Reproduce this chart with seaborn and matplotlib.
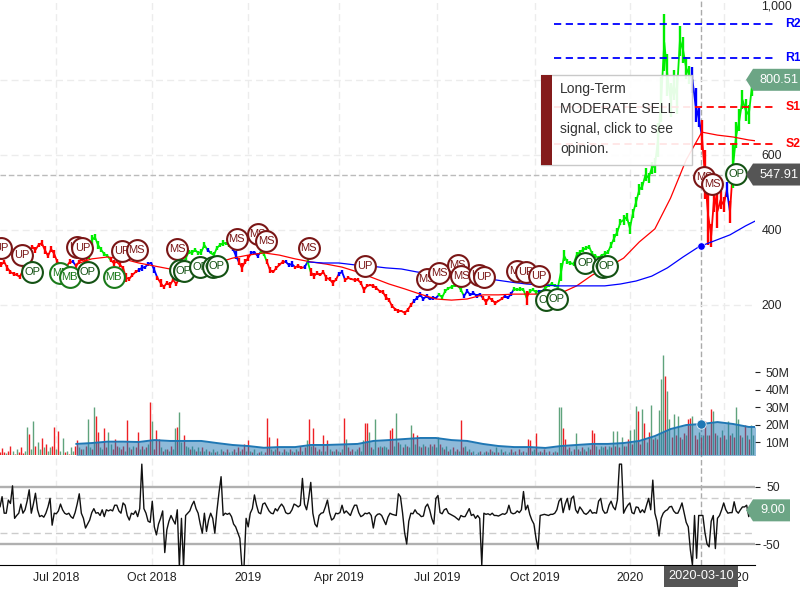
import matplotlib
matplotlib.use("Agg")
import matplotlib.pyplot as plt
from matplotlib.patches import Polygon, Rectangle
import seaborn as sns
import pandas as pd

# price midpoints, sampled every 3 days from start_date
price = [
    307, 315, 299, 288, 283, 280, 275, 293, 320, 341,
    355, 347, 360, 365, 347, 331, 349, 336, 315, 307,
    299, 304, 315, 315, 304, 315, 325, 315, 333, 373,
    381, 360, 347, 336, 331, 320, 312, 315, 307, 299,
    272, 270, 280, 288, 293, 299, 301, 309, 312, 293,
    272, 259, 248, 259, 253, 267, 256, 272, 299, 325,
    341, 339, 347, 339, 341, 360, 347, 339, 333, 352,
    360, 365, 365, 360, 352, 333, 315, 299, 315, 325,
    339, 341, 331, 341, 336, 315, 293, 288, 299, 307,
    315, 315, 307, 309, 301, 304, 299, 301, 315, 288,
    277, 285, 280, 288, 272, 269, 259, 267, 283, 288,
    267, 272, 269, 267, 267, 259, 240, 251, 253, 251,
    245, 237, 235, 221, 213, 197, 189, 184, 184, 179,
    187, 200, 211, 219, 227, 216, 224, 216, 219, 219,
    227, 221, 237, 245, 248, 253, 253, 240, 224, 237,
    227, 232, 224, 229, 219, 208, 219, 213, 205, 211,
    216, 224, 219, 229, 243, 240, 243, 240, 219, 237,
    240, 235, 237, 237, 245, 253, 256, 251, 248, 288,
    331, 315, 312, 309, 333, 341, 347, 352, 355, 336,
    331, 325, 333, 336, 341, 360, 379, 395, 421, 427,
    435, 405, 445, 475, 507, 517, 547, 539, 565, 573,
    640, 747, 900, 813, 747, 787, 760, 905, 880, 832,
    813, 800, 733, 699, 653, 547, 440, 385, 493, 450,
    480, 467, 507, 448, 573, 653, 693, 747, 720, 707,
    780,
]
# high-low height at each sample
day_range = [
    14, 10, 16, 12, 10, 8, 10, 14, 18, 14,
    12, 16, 10, 16, 22, 14, 16, 20, 14, 10,
    12, 10, 14, 8, 10, 12, 16, 10, 22, 28,
    16, 20, 14, 10, 8, 12, 14, 8, 14, 12,
    24, 10, 12, 8, 12, 16, 8, 10, 6, 14,
    12, 20, 12, 10, 14, 8, 12, 10, 12, 10,
    10, 14, 12, 10, 16, 14, 10, 8, 14, 10,
    12, 14, 8, 10, 16, 20, 18, 24, 14, 14,
    10, 8, 14, 10, 12, 14, 18, 8, 10, 8,
    12, 8, 10, 14, 8, 10, 8, 12, 14, 20,
    16, 10, 8, 12, 14, 10, 16, 8, 12, 8,
    12, 8, 6, 10, 8, 12, 14, 8, 6, 10,
    10, 8, 12, 14, 10, 12, 8, 10, 6, 12,
    10, 12, 10, 12, 14, 10, 12, 8, 10, 6,
    8, 10, 12, 8, 10, 8, 6, 12, 10, 12,
    8, 10, 12, 8, 10, 14, 8, 10, 12, 6,
    8, 10, 8, 12, 10, 8, 10, 8, 36, 10,
    8, 10, 8, 6, 10, 8, 10, 8, 6, 50,
    30, 14, 10, 12, 16, 10, 14, 10, 12, 16,
    10, 12, 8, 14, 12, 18, 20, 22, 18, 26,
    20, 30, 24, 28, 30, 22, 34, 26, 32, 40,
    90, 120, 150, 110, 90, 80, 100, 80, 70, 60,
    50, 70, 90, 50, 80, 130, 160, 60, 90, 90,
    50, 40, 40, 60, 120, 70, 60, 50, 60, 50,
    46,
]
signal = (
    "rrrrrrrrrr" "rrrrrrrrrr" "rrrbrrrrgg" "gggggrrrrr" "rrrrbbbbbb"
    "rrrrrrrggg" "ggggggbggg" "ggggbbrrrr" "bbbggrrrrr" "rbbbrrrbgr"
    "rrrrrrrrbb" "rrrrrrrrrr" "rrrrrrrrrr" "rrbbbbbbbb" "ggggggggbb"
    "bbbbrrrrrr" "rbbbggggrg" "ggbbgggggg" "gggggggggg" "gggggggggg"
    "gggggggggg" "gggggggggg" "gbbbrrrrrr" "rrbrgggggg" "g"
)
ma50 = [309, 323, 328, 323, 312, 304, 296, 299, 304, 312, 325, 333, 339, 333, 323,
        315, 309, 301, 288, 272, 256, 243, 229, 216, 213, 216, 227, 227, 229, 229,
        229, 232, 251, 280, 301, 325, 368, 403, 485, 587, 661, 653, 648, 640, 635]
ma200 = [315, 312, 312, 307, 304, 299, 296, 288, 283, 277, 272, 269, 267, 261, 256,
         253, 251, 251, 251, 251, 256, 264, 277, 299, 328, 355, 371, 387, 411, 432]

pivot_names = ["R2", "R1", "S1", "S2"]
pivot_levels = [949, 859, 728, 629]

marker_days = [1, 21, 31, 58, 67, 74, 79, 84, 109, 117, 131, 170, 173, 176, 192, 204, 208,
               227, 247, 255, 296, 350, 409, 421, 439, 442, 459, 464, 496, 504, 517, 524,
               534, 561, 578, 582, 675, 683, 706]
marker_prices = [352, 333, 288, 285, 275, 355, 352, 288, 275, 344, 347, 349, 293, 291, 301,
                 301, 304, 376, 389, 371, 352, 304, 269, 285, 307, 277, 280, 275, 291, 288,
                 277, 213, 216, 312, 301, 304, 541, 523, 549]
marker_labels = ["UP", "UP", "OP", "MB", "MB", "UP", "UP", "OP", "MB", "UP", "MS", "MS", "OP",
                 "OP", "OP", "OP", "OP", "MS", "MS", "MS", "MS", "UP", "MS", "MS", "MS", "MS",
                 "UP", "UP", "MS", "UP", "UP", "OP", "OP", "OP", "OP", "OP", "MS", "MS", "OP"]

# volume in millions, sampled every 2 days
volume = [
    4, 6.5, 4, 3.5, 5, 8, 5, 3, 6, 4, 7, 3.5, 5, 18.5, 14.5, 6, 22, 8, 10, 6,
    12.5, 7, 9, 5, 7, 8, 18.5, 6, 16.5, 5, 12.5, 4, 5, 3, 7, 5, 8, 11, 7, 6,
    6, 8, 23, 7, 6, 30, 25, 16, 7, 6, 18, 7, 16, 9, 6, 12, 8, 7, 6, 8,
    5, 22.5, 7, 6, 8, 7, 15.5, 6, 8, 6, 7, 9, 33, 22, 6, 17, 12, 7, 5, 6,
    6, 5, 8, 6, 18, 18.5, 27, 10, 14, 8, 7, 6, 8, 6, 5, 7, 5, 7, 5, 6,
    5, 4, 6, 4, 5, 3, 6, 5, 4, 6, 4, 5, 6, 4, 7, 5, 6, 9, 5, 11,
    5, 4, 6, 3.5, 4, 5, 3, 4, 24, 13, 6, 5, 6, 12.5, 5, 4, 6, 5, 4, 6,
    5, 4, 6, 5, 8, 5, 7, 11, 23, 8, 18, 7, 5, 6, 5, 14, 5, 11, 6, 5,
    5, 6, 5, 4, 6, 23.5, 12, 7, 5, 6, 5, 6, 7, 5, 11, 21, 21, 16, 7, 6,
    23, 7, 8, 7, 8, 7, 6, 17, 18, 8, 26.5, 10, 9, 7, 9, 8, 7, 20, 15, 9,
    14, 8, 7, 9, 8, 7, 9, 8, 9, 7, 13, 9, 7, 6, 8, 5, 6, 7, 5, 6,
    5, 22.5, 7, 8, 5, 6, 4, 5, 3, 4, 5, 3, 4, 5, 4, 6, 5, 4, 7, 4,
    6, 4, 5, 3, 4, 6, 4, 5, 3, 6, 4, 5, 4, 12, 11, 5, 6, 15, 4, 5,
    4, 6, 4, 5, 3, 4, 5, 4, 30, 30, 18, 12, 6, 7, 5, 6, 15, 6, 5, 7,
    6, 5, 7, 6, 17, 15, 8, 6, 8, 7, 8, 6, 8, 7, 16.5, 8, 16.5, 7, 13, 8,
    8, 12, 17, 9, 17.5, 30.5, 28, 9, 29, 21, 10, 16, 31, 12, 13, 12, 28.5, 46, 59.7, 47.5,
    39, 23, 13, 26, 14, 25, 13, 12, 15, 14, 23, 23.5, 25, 14, 12, 16, 13, 14, 22, 14,
    14, 29, 28, 15, 14, 13, 17, 14, 12, 22, 14, 15, 13, 30, 23, 14, 13, 20, 14, 12,
    20, 14,
]
volume_side = (
    "rrrgrrgrgrrrggrggrgg" "rgrggrrgrggrgrggrrgr" "grggrgrrggrrggrrrgrr"
    "grgrgrrgrgrgrgrrrgrg" "rgrggrggrggrggrggrgg" "rggrgrgrgrggrgrgrrgr"
    "grggrggrrrgrgrrgrggr" "grgrrgrgrgrrgrgrgrgr" "grgrgrgrrrggrggrrgrg"
    "grgrggrrrggrgrgrggrg" "rgrgrgrgrggrgrgrgrgr" "grrgrgrgrgrggrgrgrgr"
    "grgrgrgrgrgrgrrggrgr" "grgrgrgrggrrgrgrgrgr" "grgrrrgrggrggrgrgrgr"
    "grgrggrrgrgrgrgrgggr" "ggrgrgrgrgrrgrrgrgrg" "rrgrgrgrggrgrggrgrgr" "gg"
)
volume_ma = [8.9, 9.4, 10.2, 10.2, 10, 11.1, 10.6, 10.6, 10.6, 9.4, 8.3, 7.7, 6.7, 7.1, 7.1,
             8.3, 8.3, 8.6, 8.9, 10.6, 11.1, 11.7, 12.3, 12.3, 11.1, 10.6, 8.9, 7.7, 7.1, 7.1,
             6.6, 7.7, 8.3, 8.9, 8.9, 9.4, 10.6, 13.4, 17.4, 19.7, 20.3, 21.4, 20.3, 18.6, 18.6]

# oscillator, sampled every 2 days
osc = [
    15, 33, 4, 4, 27, 21, 52, -5, 0, 4, 20, 4, 10, 25, 45, 4, 20, 39, 10, -2,
    0, -3, 4, 15, 30, -17, 4, 3, 8, 20, 10, 4, 2, 4, -2, -5, 5, 20, 38, 4,
    -5, -22, -15, -8, 5, 12, 4, 5, 0, 10, -2, 10, 8, 10, 8, 18, 18, 8, 4, 22,
    18, 0, -8, 4, 2, 8, -2, 12, 90, 12, 4, -10, -12, 25, -20, -34, -15, -5, 8, -65,
    -25, -10, 0, -8, -15, 10, -90, -5, -90, 0, 4, 8, 18, 25, 12, 4, -15, -31, 4, -28,
    -8, 4, -5, -31, 8, 40, 68, 0, 4, 2, 4, -2, -15, -20, -30, -40, -90, -90, -5, -20,
    4, 12, 36, 18, 5, 3, 20, 22, 15, 8, 4, 3, 12, 8, 15, 20, 15, 5, 3, 4,
    10, 20, 18, 15, 18, 65, 20, 10, 30, 58, 4, -15, -20, 0, 4, 5, 15, 27, 5, -8,
    -5, 4, 3, 5, 18, 4, 8, 4, 0, 10, 18, 18, 5, -2, 0, 4, 3, 5, 0, -22,
    -2, 2, 3, 0, -8, -16, -3, 4, 2, 1, 0, 38, 33, 5, -30, -50, -10, 4, 3, 10,
    4, 2, -2, -1, 15, 20, 10, -5, -15, 30, 35, 5, 3, 10, 12, 4, 2, 0, -2, -5,
    -8, 0, -2, -2, 5, 12, 0, 2, -5, 0, -5, -87, 4, 2, 3, 1, 4, 0, 0, -1,
    1, 3, 2, 5, 18, 5, 3, 4, 8, 5, 10, 42, 10, 18, 2, -8, -15, -40, -59, 0,
    1, 2, 1, 0, 2, 2, 4, 10, 25, 30, 5, 20, 30, 10, 30, 34, 10, 4, 15, 10,
    4, 2, 5, 10, 4, 5, 4, 25, 30, 10, 4, 5, 18, 25, 15, 10, 27, 90, 90, 4,
    12, 18, 22, 5, 3, 15, 14, 5, 10, 5, 18, 30, 10, 62, 4, -10, -36, -5, 4, 8,
    10, 15, 16, 8, 4, 4, 12, 22, 5, -12, -20, -60, -87, 0, -75, 0, 0, 0, -30, -50,
    -55, -10, 0, -58, -5, 0, 10, 22, 10, 4, 5, 5, 24, 8, 4, 10, 15, 15, 18, -2,
    15, 9,
]

x_ticks = ["2018-07-01", "2018-10-01", "2019-01-01", "2019-03-29", "2019-07-01",
           "2019-10-03", "2020-01-02", "2020-04-01"]
x_labels = ["Jul 2018", "Oct 2018", "2019", "Apr 2019", "Jul 2019", "Oct 2019", "2020", "Apr 2020"]
price_ticks = [200, 400, 600, 800, 1000]
price_tick_labels = ["200", "400", "600", "", "1,000"]
volume_ticks = [10, 20, 30, 40, 50]
volume_tick_labels = ["10M", "20M", "30M", "40M", "50M"]
osc_ticks = [-50, 50]
popup_lines = ["Long-Term", "MODERATE SELL", "signal, click to see", "opinion."]

cross_date = "2020-03-10"
cross_price = 547.91
cross_ma200 = 357
cross_volume = 20.2
last_price = 800.51
last_osc = 9.00

start_date = pd.Timestamp("2018-05-08")
end_date = pd.Timestamp("2020-05-01")
LINE_COLORS = {"r": "#ff0000", "g": "#00ee00", "b": "#0000ff"}
VOL_COLORS = {"r": "#ee2024", "g": "#5fa37c"}
DARK_RED = "#7a1616"
TAG_GREEN = "#6ca585"
TAG_DARK = "#555555"
GRID = "#ececec"

sns.set_style("white")
plt.rcParams["font.family"] = ["Liberation Sans", "DejaVu Sans"]
plt.rcParams["text.color"] = "#222222"

fig = plt.figure(figsize=(8, 6), dpi=100)
W, H = 800.0, 600.0
RIGHT = 755.0


def pane(top, bottom):
    ax = fig.add_axes([0, 1 - bottom / H, RIGHT / W, (bottom - top) / H])
    ax.set_xlim(start_date, end_date)
    ax.patch.set_visible(False)
    sns.despine(ax=ax, left=True, bottom=True, right=True, top=True)
    ax.set_xticks([])
    return ax


# background holds the vertical grid and the date axis
bg = pane(0, 565)
bg.set_ylim(0, 1)
bg.spines["bottom"].set_visible(True)
bg.spines["bottom"].set_color("black")
bg.set_yticks([])
bg.set_xticks(pd.to_datetime(x_ticks))
bg.set_xticklabels(x_labels, fontsize=8.8, color="#222222")
bg.tick_params(axis="x", length=0, pad=5)
bg.grid(axis="x", color=GRID, ls=(0, (5, 3)), lw=1)
bg.set_axisbelow(True)
bg.axvline(pd.Timestamp(cross_date), color="#aaaaaa", ls=(0, (4, 2)), lw=1)

# price pane
ax = pane(0, 350)
ax.set_ylim(80, 1013.3)
ax.yaxis.tick_right()
ax.set_yticks(price_ticks)
ax.set_yticklabels(price_tick_labels, fontsize=8.8)
ax.tick_params(axis="y", length=0, pad=4.5)
for level in price_ticks[:-1]:
    ax.axhline(level, color=GRID, ls=(0, (5, 3)), lw=1, zorder=0)
ax.axhline(cross_price, color="#bbbbbb", ls=(0, (4, 2)), lw=1, zorder=1)

price_dates = pd.date_range(start_date + pd.Timedelta(days=1), periods=len(price), freq="3D")
seg_rows = []
seg = 0
for i in range(len(price)):
    if i > 0 and signal[i] != signal[i - 1]:
        seg_rows.append((price_dates[i], price[i], signal[i - 1], seg))  # join to next run
        seg += 1
    seg_rows.append((price_dates[i], price[i], signal[i], seg))
price_df = pd.DataFrame(seg_rows, columns=["date", "price", "signal", "seg"])
sns.lineplot(data=price_df, x="date", y="price", hue="signal", units="seg", estimator=None,
             palette=LINE_COLORS, lw=1.3, legend=False, sort=False, ax=ax, zorder=3)
ax.vlines(price_dates, [p - r / 2 for p, r in zip(price, day_range)],
          [p + r / 2 for p, r in zip(price, day_range)],
          colors=[LINE_COLORS[c] for c in signal], lw=1.7, zorder=3)

sns.lineplot(x=pd.date_range("2018-07-20", periods=len(ma50), freq="15D"), y=ma50,
             color="#ff0000", lw=0.9, ax=ax, zorder=4)
sns.lineplot(x=pd.date_range("2019-02-27", periods=len(ma200), freq="15D"), y=ma200,
             color="#0000ff", lw=0.9, ax=ax, zorder=4)
sns.scatterplot(x=[pd.Timestamp(cross_date)], y=[cross_ma200], color="#0000ff", s=28,
                ax=ax, zorder=5, legend=False)

pivot_span = pd.to_datetime(["2019-10-21", "2020-05-21"])
for name, level in zip(pivot_names, pivot_levels):
    col = "#0000ff" if name[0] == "R" else "#ff0000"
    ax.plot(pivot_span, [level, level], color=col,
            ls=(0, (4, 2.5)), lw=1.3, clip_on=False, zorder=4)
    ax.annotate(name, xy=(1, level), xycoords=("axes fraction", "data"),
                xytext=(22, 0), textcoords="offset points", color=col, fontsize=8.8,
                fontweight="bold", va="center", annotation_clip=False)

z = 6
for day, p, label in zip(marker_days, marker_prices, marker_labels):
    d = start_date + pd.Timedelta(days=day)
    col = {"OP": "#145214", "MB": "#1b7a1b"}.get(label, DARK_RED)
    sns.scatterplot(x=[d], y=[p], s=225, color="white", edgecolor=col, linewidth=1.5,
                    ax=ax, zorder=z, legend=False, clip_on=False)
    ax.text(d, p, label, color=col, fontsize=8, ha="center", va="center", zorder=z + 0.5)
    z += 1
ax.set_xlim(start_date, end_date)
ax.set_xlabel("")
ax.set_ylabel("")

# volume pane
vol_ax = pane(350, 455)
vol_ax.set_ylim(2.57, 62.6)
vol_dates = pd.date_range(start_date, periods=len(volume), freq="2D")
vol_ax.vlines(vol_dates, 0, volume, colors=[VOL_COLORS[c] for c in volume_side], lw=1.0, zorder=2)
ma_dates = pd.date_range("2018-07-20", periods=len(volume_ma), freq="15D")
vol_ax.fill_between(ma_dates, 0, volume_ma, color="#1f77b4", alpha=0.5, lw=0, zorder=3)
sns.lineplot(x=ma_dates, y=volume_ma, color="#1f77b4", lw=1.4, ax=vol_ax, zorder=4)
sns.scatterplot(x=[pd.Timestamp(cross_date)], y=[cross_volume], color="#1f77b4", s=45,
                ax=vol_ax, zorder=5, legend=False)
vol_ax.set_xlim(start_date, end_date)
vol_ax.yaxis.tick_right()
vol_ax.set_yticks(volume_ticks)
vol_ax.set_yticklabels(volume_tick_labels, fontsize=8.8)
vol_ax.tick_params(axis="y", length=3.6, width=0.8, color="#222222", pad=4, right=True)
vol_ax.set_xlabel("")
vol_ax.set_ylabel("")

# oscillator pane
osc_ax = pane(463, 565)
osc_ax.set_ylim(-86.8, 92)
for level in osc_ticks:
    osc_ax.axhline(level, color="#b0b0b0", lw=1.7, zorder=1)
for level in (-30, 30):
    osc_ax.axhline(level, color="#cccccc", ls=(0, (5, 3)), lw=1, zorder=1)
sns.lineplot(x=pd.date_range(start_date, periods=len(osc), freq="2D"), y=osc, color="#111111",
             lw=1, ax=osc_ax, zorder=3)
osc_ax.set_xlim(start_date, end_date)
osc_ax.yaxis.tick_right()
osc_ax.set_yticks(osc_ticks)
osc_ax.set_yticklabels(["-50", "50"], fontsize=8.8, ha="right")
osc_ax.tick_params(axis="y", length=3.6, width=0.8, color="#222222", pad=14.5, right=True)
osc_ax.set_xlabel("")
osc_ax.set_ylabel("")


def to_fig(px, py):
    return px / W, 1 - py / H


def value_tag(axis, value, text, color, right):
    # arrow-shaped label sitting on the right edge, y taken from the axis scale
    y = H - axis.transData.transform((0, value))[1]
    pts = [(746, y), (753, y - 11), (right, y - 11), (right, y + 11), (753, y + 11)]
    fig.add_artist(Polygon([to_fig(*p) for p in pts], closed=True, facecolor=color,
                           edgecolor="none", transform=fig.transFigure, zorder=20))
    fx, fy = to_fig(760, y)
    fig.text(fx, fy, text, color="white", fontsize=9.2, va="center", ha="left", zorder=21)


fig.canvas.draw()
value_tag(ax, last_price, f"{last_price:.2f}", TAG_GREEN, 800)
value_tag(ax, cross_price, f"{cross_price:.2f}", TAG_DARK, 800)
value_tag(osc_ax, last_osc, f"{last_osc:.2f}", TAG_GREEN, 790)

# date tag under the crosshair
tx, ty = to_fig(664, 587)
fig.add_artist(Rectangle((tx, ty), 74 / W, 21 / H, facecolor=TAG_DARK, edgecolor="none",
                         transform=fig.transFigure, zorder=20))
fig.text(701 / W, 1 - 576 / H, cross_date, color="white", fontsize=9.2, ha="center", va="center", zorder=21)

# opinion popup
px0, py0 = to_fig(541, 165)
fig.add_artist(Rectangle((px0, py0), 151 / W, 90 / H, facecolor="white", alpha=0.9,
                         edgecolor="#c4c4c4", lw=1, transform=fig.transFigure, zorder=30))
fig.add_artist(Rectangle((px0, py0), 11 / W, 90 / H, facecolor="#841b1b", edgecolor="none",
                         transform=fig.transFigure, zorder=31))
for n, line in enumerate(popup_lines):
    fig.text(560 / W, 1 - (89 + 20 * n) / H, line, fontsize=10, color="#333333",
             va="center", ha="left", zorder=32)

fig.savefig("out.png", dpi=100)
print("saved out.png")
